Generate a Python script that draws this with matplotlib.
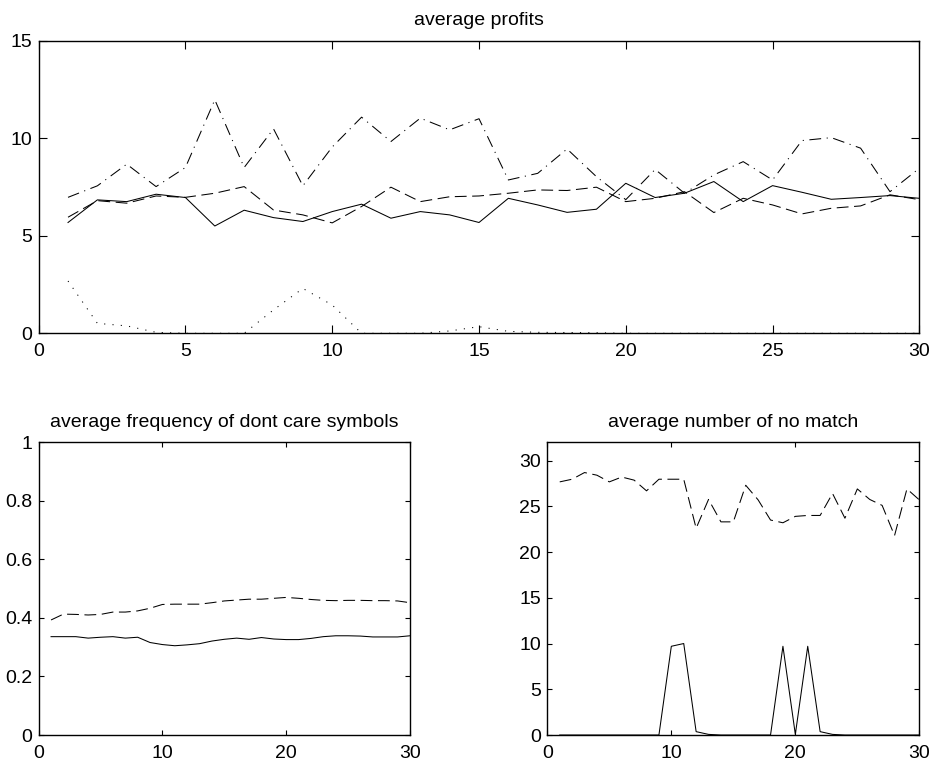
import matplotlib
matplotlib.use("Agg")
import matplotlib.pyplot as plt
import numpy as np

plt.rcParams['font.family'] = ['Liberation Sans', 'DejaVu Sans']
plt.rcParams['lines.scale_dashes'] = False

# ---------------- data ----------------
gens = list(range(1, 31))

# average profits (four strategies)
profit_solid = [5.68, 6.84, 6.75, 7.13, 6.96, 5.50, 6.31, 5.93, 5.73, 6.24,
                6.62, 5.90, 6.24, 6.07, 5.68, 6.92, 6.58, 6.20, 6.36, 7.69,
                6.96, 7.18, 7.78, 6.75, 7.57, 7.23, 6.87, 6.96, 7.06, 6.92]
profit_dashed = [5.95, 6.80, 6.67, 7.04, 6.97, 7.18, 7.52, 6.32, 6.07, 5.66,
                 6.50, 7.49, 6.75, 7.00, 7.04, 7.18, 7.35, 7.32, 7.49, 6.75,
                 6.92, 7.26, 6.19, 6.92, 6.58, 6.12, 6.41, 6.53, 7.10, 6.85]
profit_dashdot = [6.97, 7.56, 8.67, 7.52, 8.50, 11.97, 8.50, 10.48, 7.56, 9.55,
                  11.08, 9.83, 11.03, 10.43, 11.00, 7.86, 8.20, 9.45, 8.03, 6.85,
                  8.40, 7.18, 8.12, 8.80, 7.86, 9.88, 10.03, 9.49, 7.26, 8.46]
profit_dotted = [2.68, 0.51, 0.38, 0.05, 0.0, 0.0, 0.0, 1.20, 2.30, 1.45,
                 0.0, 0.0, 0.0, 0.12, 0.34, 0.10, 0.05, 0.04, 0.03, 0.0,
                 0.0, 0.0, 0.0, 0.0, 0.0, 0.0, 0.0, 0.0, 0.0, 0.0]

# average frequency of dont care symbols
dc_dashed = [0.393, 0.413, 0.412, 0.410, 0.412, 0.420, 0.420, 0.424, 0.433, 0.446,
             0.447, 0.447, 0.447, 0.452, 0.458, 0.461, 0.464, 0.464, 0.467, 0.470,
             0.467, 0.463, 0.460, 0.459, 0.460, 0.460, 0.459, 0.459, 0.458, 0.452]
dc_solid = [0.336, 0.336, 0.336, 0.331, 0.334, 0.336, 0.331, 0.334, 0.316, 0.309,
            0.305, 0.308, 0.312, 0.321, 0.327, 0.331, 0.327, 0.333, 0.328, 0.326,
            0.326, 0.330, 0.336, 0.339, 0.339, 0.338, 0.335, 0.335, 0.335, 0.339]

# average number of no match
nm_dashed = [27.67, 27.96, 28.69, 28.40, 27.67, 28.20, 27.86, 26.69, 27.96, 27.96,
             27.96, 22.60, 25.75, 23.30, 23.30, 27.30, 25.70, 23.50, 23.20, 23.90,
             24.00, 24.00, 26.40, 23.70, 26.90, 25.75, 25.10, 21.80, 26.90, 25.70]
nm_solid = [0, 0, 0, 0, 0, 0, 0, 0, 0, 9.7,
            10.0, 0.37, 0.07, 0, 0, 0, 0, 0, 9.7, 0.07,
            9.7, 0.37, 0.07, 0, 0, 0, 0, 0, 0, 0]

titles = ["average profits", "average frequency of dont care symbols",
          "average number of no match"]

# ---------------- styles ----------------
LW = 0.75
DASH = (0, (8.5, 4.0))
DASHDOT = (0, (8.5, 4.0, 0.8, 4.0))
DOT = (0, (0.8, 5.2))
FS = 14

fig = plt.figure(figsize=(9.34, 7.62), dpi=100)
ax1 = fig.add_axes([0.0414, 0.5626, 0.9429, 0.3840])
ax2 = fig.add_axes([0.0414, 0.0354, 0.3975, 0.3842])
ax3 = fig.add_axes([0.5860, 0.0354, 0.3983, 0.3842])

ax1.plot(gens, profit_solid, color='black', lw=LW, linestyle='-')
ax1.plot(gens, profit_dashed, color='black', lw=LW, linestyle=DASH)
ax1.plot(gens, profit_dashdot, color='black', lw=LW, linestyle=DASHDOT)
ax1.plot(gens, profit_dotted, color='black', lw=LW, linestyle=DOT)
ax1.set_xlim(0, 30)
ax1.set_ylim(0, 15)
ax1.set_xticks([0, 5, 10, 15, 20, 25, 30])
ax1.set_yticks([0, 5, 10, 15])

ax2.plot(gens, dc_dashed, color='black', lw=LW, linestyle=DASH)
ax2.plot(gens, dc_solid, color='black', lw=LW, linestyle='-')
ax2.set_xlim(0, 30)
ax2.set_ylim(0, 1)
ax2.set_xticks([0, 10, 20, 30])
ax2.set_yticks([0, 0.2, 0.4, 0.6, 0.8, 1.0])
ax2.set_yticklabels(['0', '0.2', '0.4', '0.6', '0.8', '1'])

ax3.plot(gens, nm_dashed, color='black', lw=LW, linestyle=DASH)
ax3.plot(gens, nm_solid, color='black', lw=LW, linestyle='-')
ax3.set_xlim(0, 30)
ax3.set_ylim(0, 32)
ax3.set_xticks([0, 10, 20, 30])
ax3.set_yticks([0, 5, 10, 15, 20, 25, 30])

for ax, t, tl in zip([ax1, ax2, ax3], titles, [5.8, 3.6, 3.6]):
    ax.set_title(t, fontsize=FS, pad=11)
    for sp in ax.spines.values():
        sp.set_linewidth(1.0)
    ax.tick_params(axis='both', which='major', direction='in', length=tl,
                   width=0.8, labelsize=FS, top=True, right=True)
    ax.tick_params(axis='x', pad=7)
    ax.tick_params(axis='y', pad=4.5)

fig.savefig("out.png", dpi=100)
